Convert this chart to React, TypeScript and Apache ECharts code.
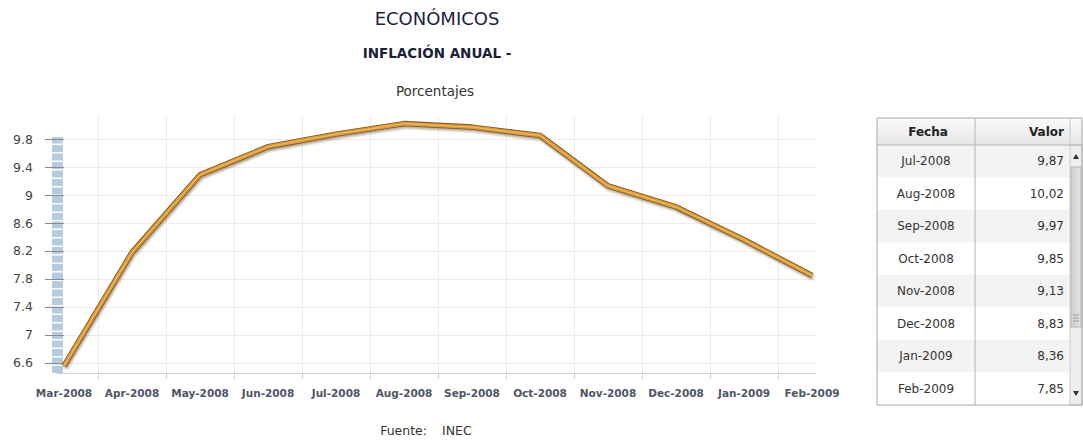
import React, { useEffect, useRef } from "react";
import * as echarts from "echarts";

const months = [
  "Mar-2008", "Apr-2008", "May-2008", "Jun-2008", "Jul-2008", "Aug-2008",
  "Sep-2008", "Oct-2008", "Nov-2008", "Dec-2008", "Jan-2009", "Feb-2009",
];
const values = [6.56, 8.18, 9.29, 9.69, 9.87, 10.02, 9.97, 9.85, 9.13, 8.83, 8.36, 7.85];
const yTicks = [6.6, 7, 7.4, 7.8, 8.2, 8.6, 9, 9.4, 9.8];
const tableHeaders = ["Fecha", "Valor"];
const tableFirstRow = 4;
const titleMain = "ECONÓMICOS";
const titleSub = "INFLACIÓN ANUAL -";
const unitLabel = "Porcentajes";
const sourceLabel = "Fuente:";
const sourceName = "INEC";

const FONT = "DejaVu Sans, Verdana, sans-serif";

export default function App() {
  const ref = useRef<HTMLDivElement>(null);

  useEffect(() => {
    if (!ref.current) return;
    const chart = echarts.init(ref.current, null, { renderer: "svg" });

    const xIdx = months.map((_, i) => i);
    const xBoundaries = months.slice(1).map((_, i) => i + 0.5);
    const lineData = values.map((v, i) => [i, v]);

    // table geometry
    const tX = 877, tY = 118, tW = 205, headH = 27, rowH = 32.5;
    const colDiv = 975, valRight = 1064, sbX = 1070, sbW = 12;
    const rows = months.slice(tableFirstRow).map((m, i) => ({
      m,
      v: values[tableFirstRow + i].toFixed(2).replace(".", ","),
    }));
    const tH = headH + rowH * rows.length;

    const tableEls: any[] = [];
    tableEls.push({
      type: "rect",
      shape: { x: tX, y: tY, width: tW, height: tH },
      style: { fill: "#ffffff", stroke: "none" },
    });
    tableEls.push({
      type: "rect",
      shape: { x: tX, y: tY, width: tW, height: headH },
      style: {
        fill: new echarts.graphic.LinearGradient(0, 0, 0, 1, [
          { offset: 0, color: "#fafafa" },
          { offset: 1, color: "#e6e6e6" },
        ]),
      },
    });
    rows.forEach((r, i) => {
      const y = tY + headH + rowH * i;
      tableEls.push({
        type: "rect",
        shape: { x: tX, y, width: sbX - tX, height: rowH },
        style: { fill: i % 2 === 0 ? "#f3f3f3" : "#ffffff" },
      });
      tableEls.push({
        type: "text",
        style: {
          text: r.m, x: (tX + colDiv) / 2, y: y + rowH / 2,
          align: "center", verticalAlign: "middle",
          font: `12px ${FONT}`, fill: "#333333",
        },
      });
      tableEls.push({
        type: "text",
        style: {
          text: r.v, x: valRight, y: y + rowH / 2,
          align: "right", verticalAlign: "middle",
          font: `12px ${FONT}`, fill: "#333333",
        },
      });
    });
    tableEls.push({
      type: "text",
      style: {
        text: tableHeaders[0], x: (tX + colDiv) / 2 + 2, y: tY + headH / 2,
        align: "center", verticalAlign: "middle",
        font: `bold 12px ${FONT}`, fill: "#222222",
      },
    });
    tableEls.push({
      type: "text",
      style: {
        text: tableHeaders[1], x: valRight, y: tY + headH / 2,
        align: "right", verticalAlign: "middle",
        font: `bold 12px ${FONT}`, fill: "#222222",
      },
    });
    // scrollbar
    tableEls.push({
      type: "rect",
      shape: { x: sbX, y: tY + headH, width: sbW, height: tH - headH },
      style: { fill: "#eeeeee", stroke: "#c8c8c8", lineWidth: 1 },
    });
    tableEls.push({
      type: "rect",
      shape: { x: sbX + 1, y: tY + headH + 22, width: sbW - 2, height: 160 },
      style: {
        fill: new echarts.graphic.LinearGradient(0, 0, 1, 0, [
          { offset: 0, color: "#cfcfcf" },
          { offset: 1, color: "#e4e4e4" },
        ]),
        stroke: "#b8b8b8", lineWidth: 1,
      },
    });
    [0, 3, 6].forEach((d) => {
      tableEls.push({
        type: "line",
        shape: { x1: sbX + 3, y1: tY + headH + 170 + d, x2: sbX + sbW - 3, y2: tY + headH + 170 + d },
        style: { stroke: "#9a9a9a", lineWidth: 1 },
      });
    });
    tableEls.push({
      type: "polygon",
      shape: { points: [[sbX + 3, tY + headH + 14], [sbX + sbW - 3, tY + headH + 14], [sbX + sbW / 2, tY + headH + 9]] },
      style: { fill: "#333333" },
    });
    tableEls.push({
      type: "polygon",
      shape: { points: [[sbX + 3, tY + tH - 14], [sbX + sbW - 3, tY + tH - 14], [sbX + sbW / 2, tY + tH - 9]] },
      style: { fill: "#333333" },
    });
    // borders
    tableEls.push({
      type: "line",
      shape: { x1: colDiv, y1: tY, x2: colDiv, y2: tY + tH },
      style: { stroke: "#b4b4b4", lineWidth: 1 },
    });
    tableEls.push({
      type: "line",
      shape: { x1: sbX, y1: tY, x2: sbX, y2: tY + headH },
      style: { stroke: "#c8c8c8", lineWidth: 1 },
    });
    tableEls.push({
      type: "line",
      shape: { x1: tX, y1: tY + headH, x2: tX + tW, y2: tY + headH },
      style: { stroke: "#b4b4b4", lineWidth: 1 },
    });
    tableEls.push({
      type: "rect",
      shape: { x: tX, y: tY, width: tW, height: tH },
      style: { fill: "none", stroke: "#a8a8a8", lineWidth: 1 },
    });

    const option: any = {
      animation: false,
      backgroundColor: "#ffffff",
      grid: [
        { left: 57, right: 268, top: 115, bottom: 68 },
        { left: 57, right: 268, top: 137, bottom: 68 },
      ],
      xAxis: [
        {
          type: "value",
          gridIndex: 0,
          min: -0.103,
          max: 11.044,
          axisLine: { show: true, lineStyle: { color: "#d4d4d4", width: 1 } },
          axisTick: {
            show: true,
            customValues: xBoundaries,
            length: 6,
            lineStyle: { color: "#cfcfcf" },
          },
          splitLine: { show: true, lineStyle: { color: "#ececec", width: 1 } },
          axisLabel: {
            customValues: xIdx,
            formatter: (v: number) => months[Math.round(v)] ?? "",
            margin: 14,
            color: "#4e5566",
            fontFamily: FONT,
            fontSize: 10.5,
            fontWeight: "bold",
          },
        },
        { type: "value", gridIndex: 1, show: false, min: 0, max: 1 },
      ],
      yAxis: [
        {
          type: "value",
          gridIndex: 0,
          min: 6.457,
          max: 10.143,
          axisLine: { show: false },
          axisTick: {
            show: true,
            customValues: yTicks,
            length: 19,
            lineStyle: { color: "#8a8a8a" },
          },
          splitLine: { show: true, lineStyle: { color: "#ececec", width: 1 } },
          axisLabel: {
            customValues: yTicks,
            formatter: (v: number) => String(+v.toFixed(1)),
            margin: 24,
            color: "#444444",
            fontFamily: FONT,
            fontSize: 12.5,
          },
        },
        {
          type: "value",
          gridIndex: 1,
          min: 0,
          max: 1,
          axisLine: {
            show: true,
            lineStyle: { color: "#b7cbdf", width: 11, type: [7, 1.5], cap: "butt" },
          },
          axisTick: { show: false },
          axisLabel: { show: false },
          splitLine: { show: false },
        },
      ],
      series: [
        {
          type: "line",
          xAxisIndex: 0,
          yAxisIndex: 0,
          data: lineData,
          symbol: "none",
          lineStyle: {
            color: "#6e5634",
            width: 5.5,
            shadowColor: "rgba(60,40,10,0.4)",
            shadowBlur: 2,
            shadowOffsetX: 1,
            shadowOffsetY: 2,
          },
          z: 3,
        },
        {
          type: "line",
          xAxisIndex: 0,
          yAxisIndex: 0,
          data: lineData,
          symbol: "none",
          lineStyle: { color: "#e29a2e", width: 3.8 },
          z: 4,
        },
        {
          type: "line",
          xAxisIndex: 0,
          yAxisIndex: 0,
          data: lineData,
          symbol: "none",
          lineStyle: { color: "#f3bb5a", width: 1 },
          z: 5,
        },
      ],
      graphic: [
        {
          type: "text",
          style: {
            text: titleMain, x: 437, y: 18, align: "center", verticalAlign: "middle",
            font: `18px ${FONT}`, fill: "#1d2340",
          },
        },
        {
          type: "text",
          style: {
            text: titleSub, x: 437, y: 53, align: "center", verticalAlign: "middle",
            font: `bold 13.5px ${FONT}`, fill: "#1a1f3a",
          },
        },
        {
          type: "text",
          style: {
            text: unitLabel, x: 435, y: 91, align: "center", verticalAlign: "middle",
            font: `13.5px ${FONT}`, fill: "#333333",
          },
        },
        {
          type: "text",
          style: {
            text: sourceLabel, x: 427, y: 430, align: "right", verticalAlign: "middle",
            font: `12.5px ${FONT}`, fill: "#333333",
          },
        },
        {
          type: "text",
          style: {
            text: sourceName, x: 442, y: 430, align: "left", verticalAlign: "middle",
            font: `12.5px ${FONT}`, fill: "#333333",
          },
        },
        ...tableEls,
      ],
    };

    chart.setOption(option);
    return () => chart.dispose();
  }, []);

  return (
    <div
      ref={ref}
      style={{ position: "fixed", left: 0, top: 0, width: 1083, height: 441, background: "#fff" }}
    />
  );
}
